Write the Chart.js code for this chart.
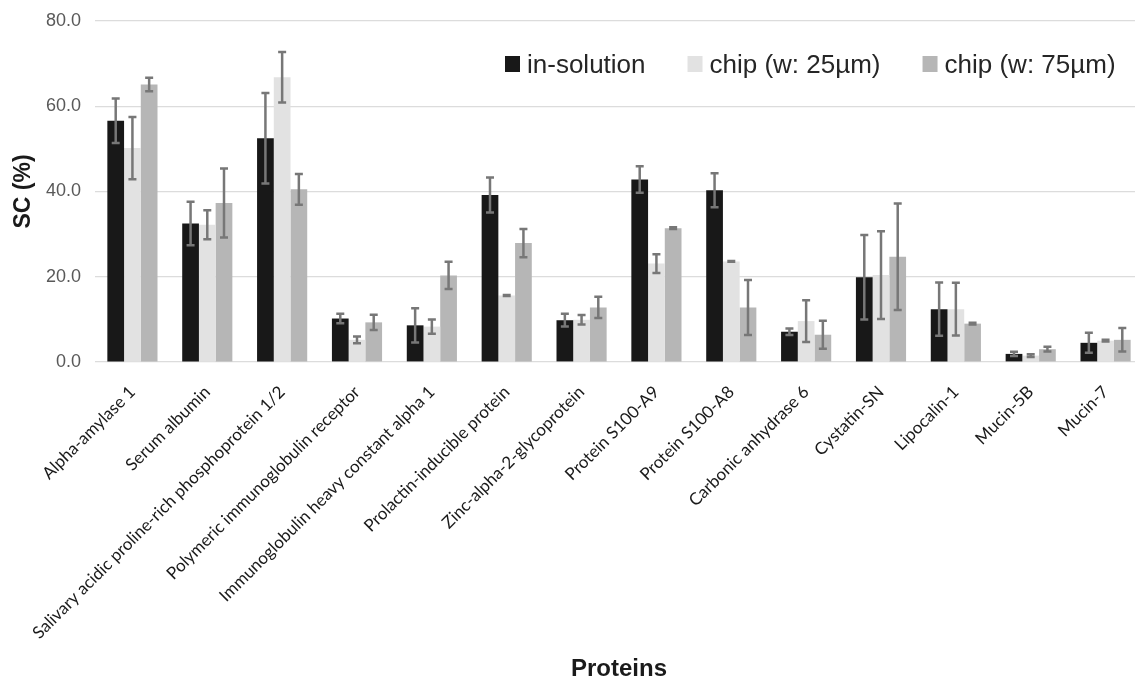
<!DOCTYPE html>
<html>
<head>
<meta charset="utf-8">
<script src="https://cdn.jsdelivr.net/npm/chart.js@4/dist/chart.umd.min.js"></script>
<style>
  body { margin: 0; background: #fff; overflow: hidden; }
  #wrap { width: 1145px; height: 680px; }
</style>
</head>
<body>
<div id="wrap"><canvas id="myChart" width="1145" height="680"></canvas></div>
<script>
// proteins on the x axis
const proteins = [
  'Alpha-amylase 1', 'Serum albumin', 'Salivary acidic proline-rich phosphoprotein 1/2',
  'Polymeric immunoglobulin receptor', 'Immunoglobulin heavy constant alpha 1',
  'Prolactin-inducible protein', 'Zinc-alpha-2-glycoprotein', 'Protein S100-A9',
  'Protein S100-A8', 'Carbonic anhydrase 6', 'Cystatin-SN', 'Lipocalin-1', 'Mucin-5B', 'Mucin-7'
];

// sequence coverage (%) and error (+/-)
const inSolution    = [56.6, 32.5, 52.5, 10.2, 8.6, 39.2, 9.8, 42.8, 40.3, 7.1, 19.9, 12.4, 1.9, 4.5];
const inSolutionErr = [5.2, 5.1, 10.6, 1.1, 4.0, 4.1, 1.5, 3.1, 4.0, 0.75, 9.9, 6.25, 0.5, 2.35];
const chip25        = [50.2, 32.2, 66.8, 5.2, 8.3, 15.6, 9.9, 23.1, 23.6, 9.6, 20.4, 12.4, 1.5, 5.0];
const chip25Err     = [7.3, 3.4, 5.9, 0.8, 1.7, 0.1, 1.1, 2.2, 0.1, 4.9, 10.3, 6.2, 0.3, 0.2];
const chip75        = [65.1, 37.3, 40.5, 9.3, 20.3, 27.9, 12.8, 31.4, 12.8, 6.4, 24.7, 9.0, 3.0, 5.2];
const chip75Err     = [1.6, 8.1, 3.6, 1.8, 3.2, 3.3, 2.5, 0.2, 6.45, 3.3, 12.5, 0.2, 0.55, 2.75];

const seriesNames = ['in-solution', 'chip (w: 25\u00b5m)', 'chip (w: 75\u00b5m)'];
const yTicks = [0, 20, 40, 60, 80];

const colors = ['#181818', '#e2e2e2', '#b6b6b6'];
const errors = [inSolutionErr, chip25Err, chip75Err];

// error bars drawn from the bar elements and the y scale
const errorBars = {
  id: 'errorBars',
  afterDatasetsDraw(chart) {
    const ctx = chart.ctx;
    const y = chart.scales.y;
    ctx.save();
    ctx.strokeStyle = '#777777';
    ctx.lineWidth = 2.5;
    chart.data.datasets.forEach((ds, i) => {
      const meta = chart.getDatasetMeta(i);
      meta.data.forEach((bar, j) => {
        const v = ds.data[j], e = errors[i][j];
        const top = y.getPixelForValue(v + e);
        const bot = y.getPixelForValue(v - e);
        ctx.beginPath();
        ctx.moveTo(bar.x, top); ctx.lineTo(bar.x, bot);
        ctx.moveTo(bar.x - 4, top); ctx.lineTo(bar.x + 4, top);
        ctx.moveTo(bar.x - 4, bot); ctx.lineTo(bar.x + 4, bot);
        ctx.stroke();
      });
    });
    ctx.restore();
  }
};

// legend sits inside the plot, top right
const insideLegend = {
  id: 'insideLegend',
  afterDraw(chart) {
    const ctx = chart.ctx;
    ctx.save();
    ctx.font = '26px "Liberation Sans", Arial, sans-serif';
    ctx.textBaseline = 'alphabetic';
    let x = 505;
    chart.data.datasets.forEach((ds) => {
      ctx.fillStyle = ds.backgroundColor;
      ctx.fillRect(x, 56, 15, 16);
      ctx.fillStyle = '#262626';
      ctx.fillText(ds.label, x + 22, 73);
      x += 22 + ctx.measureText(ds.label).width + 42;
    });
    ctx.restore();
  }
};

const ctx = document.getElementById('myChart').getContext('2d');

new Chart(ctx, {
  type: 'bar',
  data: {
    labels: proteins,
    datasets: [
      { label: seriesNames[0], data: inSolution, backgroundColor: colors[0] },
      { label: seriesNames[1], data: chip25, backgroundColor: colors[1] },
      { label: seriesNames[2], data: chip75, backgroundColor: colors[2] }
    ]
  },
  options: {
    responsive: false,
    animation: false,
    layout: { padding: { top: 21, right: 2, left: 0, bottom: 0 } },
    datasets: { bar: { barPercentage: 1, categoryPercentage: 0.67 } },
    plugins: { legend: { display: false }, tooltip: { enabled: false } },
    scales: {
      x: {
        grid: { display: false },
        border: { display: false },
        ticks: {
          minRotation: 45, maxRotation: 45, autoSkip: false, padding: 12,
          color: '#1a1a1a',
          font: { family: 'Lato', size: 17 }
        },
        title: {
          display: true, text: 'Proteins', color: '#1a1a1a',
          font: { family: '"Liberation Sans", Arial', size: 24, weight: 'bold' },
          padding: { top: 0, bottom: -4 }
        },
        afterFit(s) { s.height = 318; }
      },
      y: {
        min: 0, max: 80,
        afterBuildTicks(s) { s.ticks = yTicks.map(v => ({ value: v })); },
        grid: { color: '#dcdcdc', lineWidth: 1.2, drawTicks: false },
        border: { display: false },
        ticks: {
          padding: 14, color: '#595959',
          font: { family: '"Liberation Sans", Arial', size: 18 },
          callback: v => v.toFixed(1)
        },
        title: {
          display: true, text: 'SC (%)', color: '#1a1a1a',
          font: { family: '"Liberation Sans", Arial', size: 23, weight: 'bold' },
          padding: { top: 10, bottom: 0 }
        },
        afterFit(s) { s.width = 95; s.paddingTop = 0; s.paddingBottom = 0; }
      }
    }
  },
  plugins: [errorBars, insideLegend]
});
</script>
</body>
</html>
